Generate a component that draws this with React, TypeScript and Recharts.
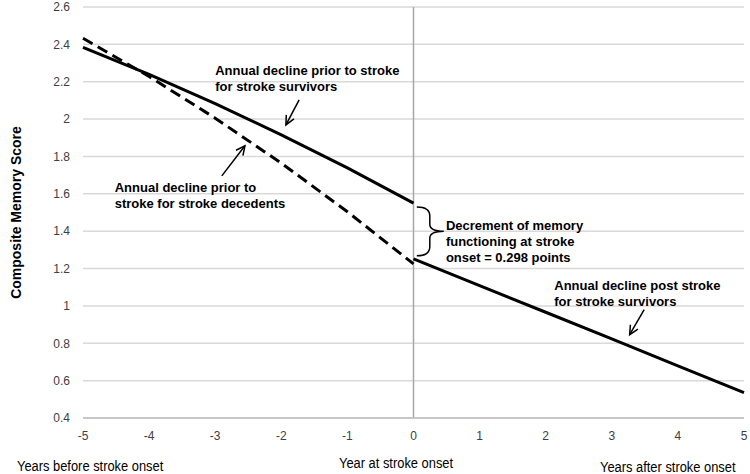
import {
  CartesianGrid,
  Line,
  LineChart,
  ReferenceDot,
  ReferenceLine,
  XAxis,
  YAxis,
} from "recharts";

const years = [-5, -4, -3, -2, -1, 0, 1, 2, 3, 4, 5];
const survivorsPre = [2.384, 2.239, 2.083, 1.916, 1.739, 1.55];
const decedentsPre = [2.433, 2.228, 2.005, 1.764, 1.504, 1.225];
const survivorsPost = [1.252, 1.109, 0.966, 0.823, 0.679, 0.536];
const yTicks = [0.4, 0.6, 0.8, 1, 1.2, 1.4, 1.6, 1.8, 2, 2.2, 2.4, 2.6];

const data = years.map((year, i) => ({
  year,
  survivorsPre: i < survivorsPre.length ? survivorsPre[i] : null,
  decedentsPre: i < decedentsPre.length ? decedentsPre[i] : null,
  survivorsPost: i >= 5 ? survivorsPost[i - 5] : null,
}));

const NARROW = "'Liberation Sans Narrow', 'Arial Narrow', 'Liberation Sans', Arial, sans-serif";
const BOLD = "'Liberation Sans', Arial, sans-serif";

const makeNote = (lines: string[]) => (props: any) => (
  <text x={props.cx} y={props.cy} fontFamily={BOLD} fontWeight="bold" fontSize={13} fill="#000">
    {lines.map((l, i) => (
      <tspan key={i} x={props.cx} dy={i === 0 ? 0 : 16}>
        {l}
      </tspan>
    ))}
  </text>
);

const Arrow = (props: any) => {
  const { x1, y1, x2, y2 } = props;
  const ang = Math.atan2(y2 - y1, x2 - x1);
  const len = 10;
  const a1 = ang + Math.PI - 0.45;
  const a2 = ang + Math.PI + 0.45;
  return (
    <g stroke="#000" strokeWidth={1.5} fill="none">
      <line x1={x1} y1={y1} x2={x2} y2={y2} />
      <polyline
        points={`${x2 + len * Math.cos(a1)},${y2 + len * Math.sin(a1)} ${x2},${y2} ${x2 + len * Math.cos(a2)},${y2 + len * Math.sin(a2)}`}
      />
    </g>
  );
};

const Brace = (props: any) => {
  const { x1, y1, y2 } = props;
  const x = x1;
  const ym = (y1 + y2) / 2;
  const d = `M ${x} ${y1} Q ${x + 13} ${y1} ${x + 13} ${y1 + 9} L ${x + 13} ${ym - 7} Q ${x + 13} ${ym} ${x + 27} ${ym} Q ${x + 13} ${ym} ${x + 13} ${ym + 7} L ${x + 13} ${y2 - 9} Q ${x + 13} ${y2} ${x} ${y2}`;
  return <path d={d} stroke="#000" strokeWidth={1.5} fill="none" />;
};

const yLabel = (props: any) => {
  const vb = props.viewBox || { y: 7, height: 411 };
  const cy = vb.y + vb.height / 2;
  return (
    <text
      x={16}
      y={cy}
      transform={`rotate(-90, 16, ${cy})`}
      textAnchor="middle"
      dominantBaseline="central"
      fontFamily={BOLD}
      fontWeight="bold"
      fontSize={14}
      fill="#000"
    >
      Composite Memory Score
    </text>
  );
};

const bottomLabel = (left: number, top: number, text: string) => (
  <div
    style={{
      position: "absolute",
      left,
      top,
      fontFamily: NARROW,
      fontSize: 14,
      color: "#000",
      whiteSpace: "nowrap",
      lineHeight: "16px",
      transform: "scaleX(0.92)",
      transformOrigin: "left center",
    }}
  >
    {text}
  </div>
);

export default function App() {
  return (
    <div style={{ position: "absolute", left: 0, top: 0, width: 750, height: 474, background: "#fff" }}>
      <LineChart width={750} height={474} data={data} margin={{ top: 7, right: 6, bottom: 26, left: 0 }}>
        <CartesianGrid stroke="#d9d9d9" strokeWidth={1.5} vertical={false} />
        <XAxis
          dataKey="year"
          type="number"
          domain={[-5, 5]}
          ticks={years}
          height={30}
          tickLine={false}
          axisLine={{ stroke: "#bfbfbf", strokeWidth: 1.5 }}
          tickMargin={7}
          tick={{ fill: "#404040", fontSize: 12, fontFamily: NARROW }}
        />
        <YAxis
          type="number"
          domain={[0.4, 2.6]}
          ticks={yTicks}
          width={83}
          tickLine={false}
          axisLine={false}
          tickMargin={7}
          interval={0}
          tickFormatter={(v) => String(Number(Number(v).toFixed(1)))}
          tick={{ fill: "#404040", fontSize: 12, fontFamily: NARROW }}
          label={{ content: yLabel }}
        />
        <ReferenceLine x={0} stroke="#a6a6a6" strokeWidth={1.5} />
        <Line dataKey="decedentsPre" stroke="#000" strokeWidth={3} strokeDasharray="11 6" dot={false} isAnimationActive={false} />
        <Line dataKey="survivorsPre" stroke="#000" strokeWidth={3} dot={false} isAnimationActive={false} />
        <Line dataKey="survivorsPost" stroke="#000" strokeWidth={3} dot={false} isAnimationActive={false} />
        <ReferenceLine segment={[{ x: -1.73, y: 2.103 }, { x: -1.93, y: 1.969 }]} shape={Arrow} ifOverflow="visible" />
        <ReferenceLine segment={[{ x: -2.9, y: 1.696 }, { x: -2.55, y: 1.857 }]} shape={Arrow} ifOverflow="visible" />
        <ReferenceLine segment={[{ x: 3.49, y: 0.98 }, { x: 3.27, y: 0.846 }]} shape={Arrow} ifOverflow="visible" />
        <ReferenceLine segment={[{ x: 0.05, y: 1.53 }, { x: 0.05, y: 1.268 }]} shape={Brace} ifOverflow="visible" />
        <ReferenceDot x={-3.0} y={2.236} r={0} ifOverflow="visible" shape={makeNote(["Annual decline prior to stroke", "for stroke survivors"])} />
        <ReferenceDot x={-4.52} y={1.611} r={0} ifOverflow="visible" shape={makeNote(["Annual decline prior to", "stroke for stroke decedents"])} />
        <ReferenceDot x={0.49} y={1.407} r={0} ifOverflow="visible" shape={makeNote(["Decrement of memory", "functioning at stroke", "onset = 0.298 points"])} />
        <ReferenceDot x={2.13} y={1.087} r={0} ifOverflow="visible" shape={makeNote(["Annual decline post stroke", "for stroke survivors"])} />
      </LineChart>
      {bottomLabel(17, 458, "Years before stroke onset")}
      {bottomLabel(339, 455, "Year at stroke onset")}
      {bottomLabel(600, 459, "Years after stroke onset")}
    </div>
  );
}
